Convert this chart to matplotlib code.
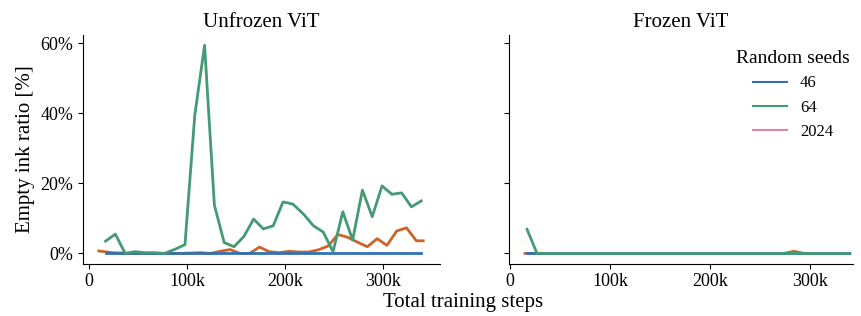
import numpy as np
import matplotlib.pyplot as plt
from matplotlib.lines import Line2D
from matplotlib.ticker import FuncFormatter

plt.rcParams['font.family'] = ['Liberation Serif', 'DejaVu Serif']

# culori
c_blue = '#3070b3'
c_green = '#449a74'
c_orange = '#cc6428'
c_pink = '#d884b4'

# Unfrozen ViT - pasi de antrenare (k) si valori [%]
steps_main = [17, 27, 37, 47, 57, 67, 77, 88, 98, 108, 118, 128, 138, 148, 158, 168, 178,
              188, 198, 208, 219, 229, 239, 249, 259, 269, 279, 289, 299, 309, 319, 329, 339]
unfrozen_46 = [0.0] * 33
unfrozen_64 = [3.5, 5.5, 0.0, 0.5, 0.2, 0.2, 0.0, 1.2, 2.5, 39.5, 59.5, 13.8, 3.1, 1.9, 4.8, 9.8, 7.0,
               7.9, 14.7, 14.1, 11.2, 7.9, 6.1, 0.5, 11.9, 3.8, 18.1, 10.5, 19.3, 16.9, 17.3, 13.3, 15.0]
steps_other = [10, 24, 34, 44, 54, 64, 74, 84, 94, 104, 114, 124, 134, 144, 154, 164, 174, 184,
               194, 204, 214, 224, 234, 244, 254, 264, 274, 284, 294, 304, 314, 324, 334, 341]
unfrozen_other = [0.7, 0.2, 0.1, 0.0, 0.0, 0.0, 0.0, 0.0, 0.0, 0.1, 0.2, 0.0, 0.6, 1.1, 0.0, 0.0, 1.8, 0.5,
                  0.2, 0.6, 0.4, 0.4, 1.0, 2.1, 5.4, 4.6, 3.2, 1.9, 4.2, 2.3, 6.4, 7.3, 3.6, 3.6]

# Frozen ViT
steps_frozen_other = [15, 24, 34, 44, 54, 64, 74, 84, 94, 104, 114, 124, 134, 144, 154, 164, 174, 184,
                      194, 204, 214, 224, 234, 244, 254, 264, 274, 284, 294, 304, 314, 324, 334, 340]
frozen_46 = [0.0] * 33
frozen_64 = [6.9] + [0.0] * 32
frozen_other = [0.0] * 27 + [0.6] + [0.0] * 6

seeds = ['46', '64', '2024']

fig = plt.figure(figsize=(8.62, 3.16), dpi=100)
ax1 = fig.add_axes([0.0963, 0.166, 0.414, 0.723])
ax2 = fig.add_axes([0.5905, 0.166, 0.399, 0.723], sharey=ax1)

def draw(ax, x_oth, y46, y64, yother, title):
    x_main = np.array(steps_main) * 1000
    x_other = np.array(x_oth) * 1000
    ax.plot(x_other, yother, color=c_orange, lw=2.0)
    ax.plot(x_main, y46, color=c_blue, lw=2.0)
    ax.plot(x_main, y64, color=c_green, lw=2.0)
    ax.set_title(title, fontsize=15)
    ax.spines['top'].set_visible(False)
    ax.spines['right'].set_visible(False)
    ax.set_xticks([0, 100000, 200000, 300000])
    ax.xaxis.set_major_formatter(FuncFormatter(lambda v, p: '0' if v == 0 else f'{int(v / 1000)}k'))
    ax.tick_params(labelsize=13)

draw(ax1, steps_other, unfrozen_46, unfrozen_64, unfrozen_other, 'Unfrozen ViT')
draw(ax2, steps_frozen_other, frozen_46, frozen_64, frozen_other, 'Frozen ViT')
ax1.set_xlim(-6000, 358000)
ax2.set_xlim(-1000, 343000)
ax1.set_ylim(-2.9, 62.4)
ax1.set_yticks([0, 20, 40, 60])
ax1.yaxis.set_major_formatter(FuncFormatter(lambda v, p: f'{int(v)}%'))
plt.setp(ax2.get_yticklabels(), visible=False)
ax1.set_ylabel('Empty ink ratio [%]', fontsize=15)

handles = [Line2D([], [], color=c, lw=1.5) for c in [c_blue, c_green, c_pink]]
ax2.legend(handles, seeds, title='Random seeds', frameon=False, fontsize=12,
           title_fontsize=14, loc='upper right', bbox_to_anchor=(1.035, 1.0))

fig.text(0.537, 0.03, 'Total training steps', ha='center', fontsize=15)

plt.savefig('out.png', dpi=100)
